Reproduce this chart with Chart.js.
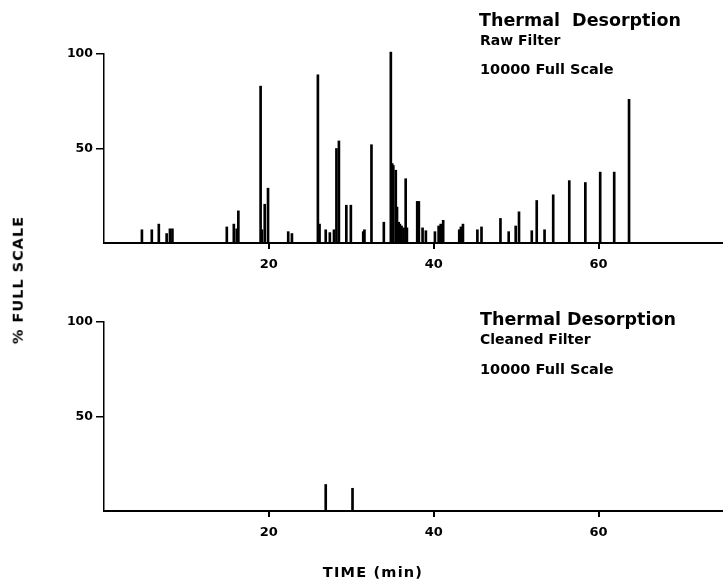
<!DOCTYPE html>
<html>
<head>
<meta charset="utf-8">
<script src="https://cdn.jsdelivr.net/npm/chart.js@4.4.1/dist/chart.umd.min.js"></script>
<style>
  html, body { margin:0; padding:0; background:#fff; }
  #wrap { position:relative; width:723px; height:581px; overflow:hidden; font-family:"DejaVu Sans", sans-serif; font-weight:bold; color:#000; }
  canvas { position:absolute; left:0; }
  .t { position:absolute; white-space:pre; line-height:1; }
</style>
</head>
<body>
<div id="wrap">
  <canvas id="c1" width="723" height="290" style="top:0px"></canvas>
  <canvas id="c2" width="723" height="291" style="top:290px"></canvas>
  <div class="t" style="left:479px; top:11.9px; font-size:17.5px;">Thermal  Desorption</div>
  <div class="t" style="left:480px; top:33.2px; font-size:14px;">Raw Filter</div>
  <div class="t" style="left:480px; top:61.7px; font-size:14.5px;">10000 Full Scale</div>
  <div class="t" style="left:480px; top:311.2px; font-size:17.5px;">Thermal Desorption</div>
  <div class="t" style="left:480px; top:331.5px; font-size:14px;">Cleaned Filter</div>
  <div class="t" style="left:480px; top:361.7px; font-size:14.5px;">10000 Full Scale</div>
  <div class="t" style="left:373px; top:564.7px; font-size:14.5px; letter-spacing:1.2px; transform:translateX(-50%);">TIME (min)</div>
  <div class="t" style="left:18px; top:280px; font-size:14.5px; letter-spacing:1px; transform:translate(-50%,-50%) rotate(-90deg);">% FULL SCALE</div>
</div>
<script>
// ---- data ----
const rawTimes   = [4.6, 5.8, 6.65, 7.6, 8.0, 8.3, 14.9, 15.75, 16.1, 16.3, 19.0, 19.15, 19.5, 19.9, 22.35, 22.8,
                    25.95, 26.15, 26.9, 27.4, 27.9, 28.2, 28.5, 29.4, 29.95, 31.45, 31.6, 32.45, 33.95,
                    34.8, 34.97, 35.1, 35.4, 35.55, 35.75, 35.9, 36.1, 36.35, 36.6, 36.75, 38.0, 38.2, 38.65, 39.05,
                    40.15, 40.6, 40.85, 41.15, 43.1, 43.3, 43.55, 45.3, 45.8, 48.1, 49.1, 49.95, 50.35,
                    51.9, 52.5, 53.45, 54.5, 56.45, 58.4, 60.2, 61.9, 63.7];
const rawHeights = [7, 7, 10, 5, 7.5, 7.5, 8.5, 10, 7.5, 17, 83, 7, 20.5, 29, 6, 5,
                    89, 10, 7, 5.5, 7, 50, 54, 20, 20, 6, 7, 52, 11,
                    101, 42, 41, 38.5, 19, 11, 10, 9, 8, 34, 8, 22, 22, 8, 6.5,
                    6, 9, 10, 12, 7, 8.5, 10, 7, 8.5, 13, 6, 9, 16.5,
                    6.5, 22.5, 7, 25.5, 33, 32, 37.5, 37.5, 76];
const cleanTimes   = [26.9, 30.15];
const cleanHeights = [14, 12];
const xTickValues  = [20, 40, 60];
const yTickValues  = [50, 100];
const xMin = 0, xMax = 75.1, yMin = 0, yMax = 100;

function pts(xs, ys) { return xs.map((x, i) => ({ x: x, y: ys[i] })); }

function makeChart(id, xs, ys, padTop, xAxisHeight) {
  return new Chart(document.getElementById(id), {
    type: 'bar',
    data: { datasets: [{ data: pts(xs, ys), backgroundColor: '#000', borderWidth: 0,
                         barThickness: 2, clip: false }] },
    options: {
      responsive: false, animation: false,
      layout: { padding: { top: padTop, left: 0, right: 0, bottom: 0 } },
      plugins: { legend: { display: false }, tooltip: { enabled: false }, title: { display: false } },
      scales: {
        x: {
          type: 'linear', min: xMin, max: xMax, offset: false,
          afterBuildTicks: s => { s.ticks = xTickValues.map(v => ({ value: v })); },
          afterFit: s => { s.height = xAxisHeight; },
          grid: { display: true, offset: false, drawOnChartArea: false, drawTicks: true, tickLength: 6, color: '#000', lineWidth: 2 },
          border: { display: true, color: '#000', width: 2 },
          ticks: { color: '#000', padding: 8, maxRotation: 0, autoSkip: false,
                   font: { family: 'DejaVu Sans', weight: 'bold', size: 13 } }
        },
        y: {
          type: 'linear', min: yMin, max: yMax,
          afterBuildTicks: s => { s.ticks = yTickValues.map(v => ({ value: v })); },
          afterFit: s => { s.width = 104; },
          grid: { display: true, offset: false, drawOnChartArea: false, drawTicks: true, tickLength: 8, color: '#000', lineWidth: 1.5 },
          border: { display: true, color: '#000', width: 1.5 },
          ticks: { color: '#000', padding: 3,
                   font: { family: 'DejaVu Sans', weight: 'bold', size: 12.5 } }
        }
      }
    }
  });
}

makeChart('c1', rawTimes, rawHeights, 54, 47);
makeChart('c2', cleanTimes, cleanHeights, 31.7, 70);
</script>
</body>
</html>
